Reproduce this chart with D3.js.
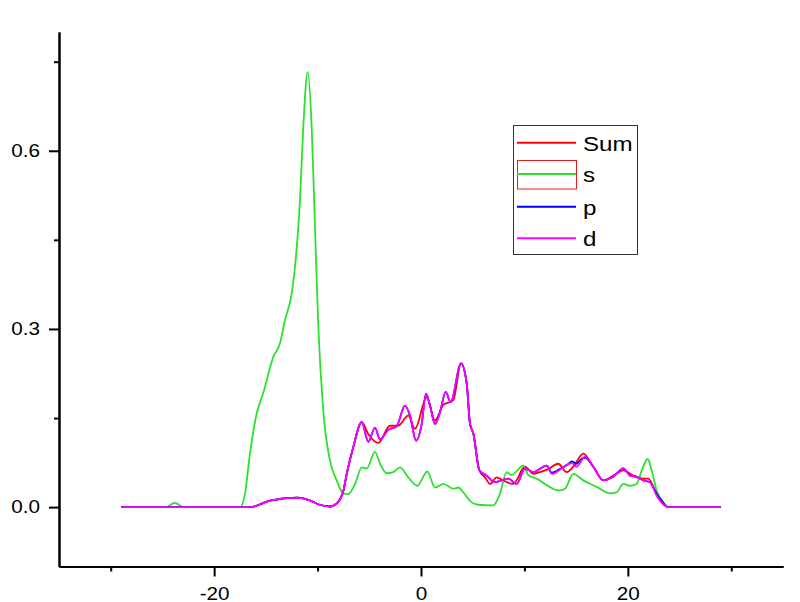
<!DOCTYPE html>
<html>
<head>
<meta charset="utf-8">
<script src="https://cdn.jsdelivr.net/npm/d3@7/dist/d3.min.js"></script>
<style>
  html, body { margin: 0; padding: 0; background: #fff; }
  svg { display: block; }
  text { font-family: "Liberation Sans", Arial, sans-serif; fill: #000; }
</style>
</head>
<body>
<svg id="chart" width="800" height="602"></svg>
<script>
// ---- Data ----
const seriesNames = ["Sum", "s", "p", "d"];
const seriesColors = ["#ff0000", "#2ee02e", "#0000ff", "#ff00ff"];

const sumX = [-29, -16.5, -14.6, -12.0, -11.2, -10.7, -9.8, -8.8, -8.15, -7.5, -7.18, -6.55, -5.73, -5.10, -4.13, -3.0, -2.22, -1.23, -0.58, 0.55, 1.35, 2.16, 3.12, 3.87, 4.42, 4.74, 5.06, 5.64, 6.2, 6.67, 7.32, 7.93, 8.92, 10.05, 10.86, 11.5, 12.3, 13.27, 14.09, 14.72, 15.69, 16.66, 17.63, 18.59, 19.56, 20.53, 21.49, 21.98, 22.62, 23.3, 23.91, 29];
const sumY = [0, 0, 0.011, 0.016, 0.014, 0.011, 0.004, 0.001, 0.006, 0.028, 0.056, 0.101, 0.143, 0.123, 0.108, 0.137, 0.137, 0.154, 0.132, 0.185, 0.146, 0.172, 0.180, 0.242, 0.208, 0.140, 0.124, 0.062, 0.050, 0.039, 0.050, 0.045, 0.039, 0.068, 0.056, 0.059, 0.064, 0.073, 0.059, 0.068, 0.090, 0.068, 0.045, 0.053, 0.062, 0.053, 0.048, 0.048, 0.028, 0.008, 0, 0];

const sX = [-29, -24.6, -24.2, -23.8, -23.4, -23.0, -17.5, -17.02, -16.53, -15.88, -15.25, -14.28, -13.63, -13.15, -12.50, -12.18, -11.70, -11.38, -10.95, -10.57, -10.25, -9.93, -9.45, -8.80, -8.15, -7.51, -7.03, -6.38, -5.73, -5.25, -4.45, -3.96, -3.32, -2.68, -2.03, -1.23, -0.36, 0.61, 1.35, 2.16, 3.12, 3.61, 4.09, 4.90, 5.54, 6.99, 7.64, 8.28, 8.77, 9.89, 10.37, 11.18, 12.15, 13.27, 13.92, 14.72, 15.69, 16.99, 18.27, 18.92, 19.56, 20.21, 20.85, 21.34, 21.92, 22.30, 22.79, 23.43, 23.91, 29];
const sY = [0, 0, 0.004, 0.007, 0.004, 0, 0, 0.022, 0.091, 0.158, 0.192, 0.253, 0.276, 0.315, 0.360, 0.405, 0.517, 0.640, 0.733, 0.640, 0.472, 0.304, 0.163, 0.078, 0.045, 0.023, 0.022, 0.039, 0.067, 0.065, 0.093, 0.073, 0.057, 0.059, 0.067, 0.050, 0.036, 0.060, 0.033, 0.039, 0.031, 0.033, 0.025, 0.008, 0.004, 0.003, 0.023, 0.059, 0.054, 0.070, 0.054, 0.048, 0.037, 0.028, 0.031, 0.056, 0.045, 0.034, 0.023, 0.025, 0.039, 0.036, 0.039, 0.062, 0.081, 0.062, 0.028, 0.008, 0, 0];

const pX = [-29, -16.5, -14.6, -12.0, -11.2, -10.7, -9.8, -8.8, -8.15, -7.5, -7.18, -6.55, -5.73, -5.10, -4.45, -3.96, -3.16, -2.35, -1.55, -1.06, -0.48, 0.07, 0.48, 0.87, 1.35, 1.84, 2.39, 2.87, 3.87, 4.42, 4.74, 5.06, 5.64, 6.35, 7.15, 7.80, 8.44, 9.25, 10.05, 10.86, 12.15, 12.64, 13.61, 14.2, 14.57, 15.05, 15.5, 15.86, 16.66, 17.63, 18.59, 19.56, 20.21, 20.85, 21.49, 22.14, 22.79, 23.3, 23.91, 29];
const pY = [0, 0, 0.011, 0.016, 0.014, 0.011, 0.004, 0.001, 0.006, 0.028, 0.056, 0.101, 0.143, 0.110, 0.134, 0.114, 0.130, 0.136, 0.171, 0.154, 0.112, 0.140, 0.191, 0.171, 0.140, 0.160, 0.194, 0.177, 0.242, 0.208, 0.140, 0.124, 0.062, 0.053, 0.042, 0.045, 0.048, 0.039, 0.065, 0.059, 0.070, 0.058, 0.066, 0.072, 0.077, 0.073, 0.081, 0.083, 0.068, 0.045, 0.051, 0.065, 0.053, 0.051, 0.045, 0.042, 0.022, 0.010, 0, 0];

const dX = [-29, -16.5, -14.6, -12.0, -11.2, -10.7, -9.8, -8.8, -8.15, -7.5, -7.18, -6.55, -5.73, -5.10, -4.45, -3.96, -3.16, -2.35, -1.55, -1.06, -0.48, 0.07, 0.48, 0.87, 1.35, 1.84, 2.39, 2.87, 3.87, 4.42, 4.74, 5.06, 5.64, 6.35, 7.15, 7.80, 8.44, 9.25, 10.05, 10.86, 12.15, 12.64, 13.61, 14.57, 15.05, 15.86, 16.66, 17.63, 18.59, 19.56, 20.21, 20.85, 21.49, 22.14, 22.79, 23.91, 29];
const dY = [0, 0, 0.011, 0.016, 0.014, 0.011, 0.004, 0.001, 0.006, 0.028, 0.056, 0.101, 0.143, 0.110, 0.134, 0.114, 0.130, 0.136, 0.171, 0.154, 0.112, 0.140, 0.191, 0.171, 0.140, 0.160, 0.194, 0.177, 0.242, 0.208, 0.140, 0.124, 0.062, 0.053, 0.042, 0.045, 0.048, 0.039, 0.065, 0.059, 0.070, 0.056, 0.065, 0.074, 0.068, 0.085, 0.068, 0.045, 0.051, 0.065, 0.053, 0.051, 0.045, 0.042, 0.019, 0, 0];

const xMajorTicks = [-20, 0, 20];
const xMinorTicks = [-30, -10, 10, 30];
const yMajorTicks = [0.0, 0.3, 0.6];
const yMinorTicks = [0.15, 0.45, 0.75];

// ---- Layout ----
const svg = d3.select("#chart");
const plot = { left: 59, right: 783, top: 32, bottom: 566.5 };
const x = d3.scaleLinear().domain([-35, 35]).range([plot.left, plot.right]);
const y = d3.scaleLinear().domain([-0.1, 0.8]).range([plot.bottom, plot.top]);
const stretch = 1.15;

// ---- Curves ----
const series = [
  { name: "Sum", xs: sumX, ys: sumY, color: seriesColors[0] },
  { name: "s", xs: sX, ys: sY, color: seriesColors[1] },
  { name: "p", xs: pX, ys: pY, color: seriesColors[2] },
  { name: "d", xs: dX, ys: dY, color: seriesColors[3] }
];
const line = d3.line().x(d => x(d[0])).y(d => y(d[1])).curve(d3.curveMonotoneX);
svg.append("g").selectAll("path").data(series).join("path")
  .attr("d", s => line(s.xs.map((v, i) => [v, s.ys[i]])))
  .attr("fill", "none")
  .attr("stroke", s => s.color)
  .attr("stroke-width", 1.8)
  .attr("stroke-linejoin", "round");

// ---- Axes ----
function styleAxis(g) {
  g.selectAll("path.domain").attr("stroke", "#000").attr("stroke-width", 2);
  g.selectAll(".tick line").attr("stroke", "#000").attr("stroke-width", 2);
}
const xAxisMinor = svg.append("g").attr("transform", `translate(0,${plot.bottom})`)
  .call(d3.axisBottom(x).tickValues(xMinorTicks).tickSize(5).tickSizeOuter(0).tickFormat(""));
styleAxis(xAxisMinor);
const xAxis = svg.append("g").attr("transform", `translate(0,${plot.bottom})`)
  .call(d3.axisBottom(x).tickValues(xMajorTicks).tickSize(10).tickSizeOuter(0).tickPadding(10.5).tickFormat(d => String(d)));
styleAxis(xAxis);
xAxis.selectAll(".tick text")
  .attr("font-size", 18).attr("font-family", "Liberation Sans, Arial, sans-serif").attr("fill", "#000")
  .attr("transform", `scale(${stretch},1)`);

const yAxisMinor = svg.append("g").attr("transform", `translate(${plot.left},0)`)
  .call(d3.axisLeft(y).tickValues(yMinorTicks).tickSize(5).tickSizeOuter(0).tickFormat(""));
styleAxis(yAxisMinor);
const yAxis = svg.append("g").attr("transform", `translate(${plot.left},0)`)
  .call(d3.axisLeft(y).tickValues(yMajorTicks).tickSize(10).tickSizeOuter(0).tickPadding(9).tickFormat(d => d.toFixed(1)));
styleAxis(yAxis);
yAxis.selectAll(".tick text")
  .attr("font-size", 18).attr("font-family", "Liberation Sans, Arial, sans-serif").attr("fill", "#000")
  .attr("transform", `translate(-19,0) scale(${stretch},1) translate(19,0)`);

// ---- Legend ----
const legend = { x0: 513.5, y0: 125.5, w: 124, h: 129, lineX1: 517, lineX2: 576, textX: 583 };
const legendRows = [142.7, 174, 206.7, 238.3];
const lg = svg.append("g");
lg.append("rect").attr("x", legend.x0).attr("y", legend.y0).attr("width", legend.w).attr("height", legend.h)
  .attr("fill", "#fff").attr("stroke", "#333").attr("stroke-width", 1);
series.forEach((s, i) => {
  const ly = legendRows[i];
  if (s.name === "s") {
    lg.append("rect").attr("x", 517.5).attr("y", ly - 13.5).attr("width", 59).attr("height", 28.5)
      .attr("fill", "none").attr("stroke", "#e02020").attr("stroke-width", 1);
  }
  lg.append("line").attr("x1", legend.lineX1).attr("x2", legend.lineX2).attr("y1", ly).attr("y2", ly)
    .attr("stroke", s.color).attr("stroke-width", 2);
  lg.append("g").attr("transform", `translate(${legend.textX},${ly + 7.8}) scale(${stretch},1)`)
    .append("text").attr("x", 0).attr("y", 0).attr("font-size", 21).text(s.name);
});
</script>
</body>
</html>
